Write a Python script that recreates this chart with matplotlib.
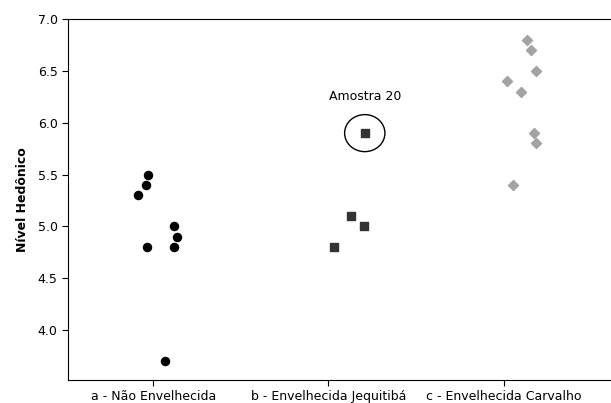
import numpy as np
import matplotlib.pyplot as plt
from matplotlib.patches import Ellipse

groups = ['a - Não Envelhecida', 'b - Envelhecida Jequitibá', 'c - Envelhecida Carvalho']

# jittered x offsets and hedonic levels
a_dx = [-0.027, -0.04, -0.086, 0.116, 0.137, -0.038, 0.116, 0.065]
a_y = [5.5, 5.4, 5.3, 5.0, 4.9, 4.8, 4.8, 3.7]
b_dx = [0.207, 0.13, 0.2, 0.03]
b_y = [5.9, 5.1, 5.0, 4.8]
c_dx = [0.131, 0.156, 0.185, 0.021, 0.097, 0.171, 0.185, 0.051]
c_y = [6.8, 6.7, 6.5, 6.4, 6.3, 5.9, 5.8, 5.4]

fig = plt.figure(figsize=(6.11, 4.03), dpi=100)
ax = fig.add_axes([68/611, 1-380/403, (620-68)/611, (380-18.5)/403])

ax.scatter(1 + np.array(a_dx), a_y, marker='o', s=34, color='black', zorder=3)
ax.scatter(2 + np.array(b_dx), b_y, marker='s', s=26, color='#333333', zorder=3)
ax.scatter(3 + np.array(c_dx), c_y, marker='D', s=26, color='#a3a3a3', zorder=3)

# highlight sample 20
ax.add_patch(Ellipse((2 + b_dx[0], b_y[0]), 0.23, 0.357, fill=False,
                     edgecolor='black', lw=1))
ax.text(2 + b_dx[0], 6.25, 'Amostra 20', ha='center', va='center', fontsize=9)

ax.set_xlim(0.514, 3.663)
ax.set_ylim(3.52, 7.005)
ax.set_xticks([1, 2, 3])
ax.set_xticklabels(groups, fontsize=9)
ax.set_yticks(np.arange(4.0, 7.01, 0.5))
ax.set_yticklabels(['%.1f' % v for v in np.arange(4.0, 7.01, 0.5)], fontsize=9)
ax.tick_params(length=4, width=0.8)
ax.set_ylabel('Nível Hedônico', fontsize=9, fontweight='bold', labelpad=6)
ax.spines['right'].set_visible(False)

fig.savefig('out.png', dpi=100)
